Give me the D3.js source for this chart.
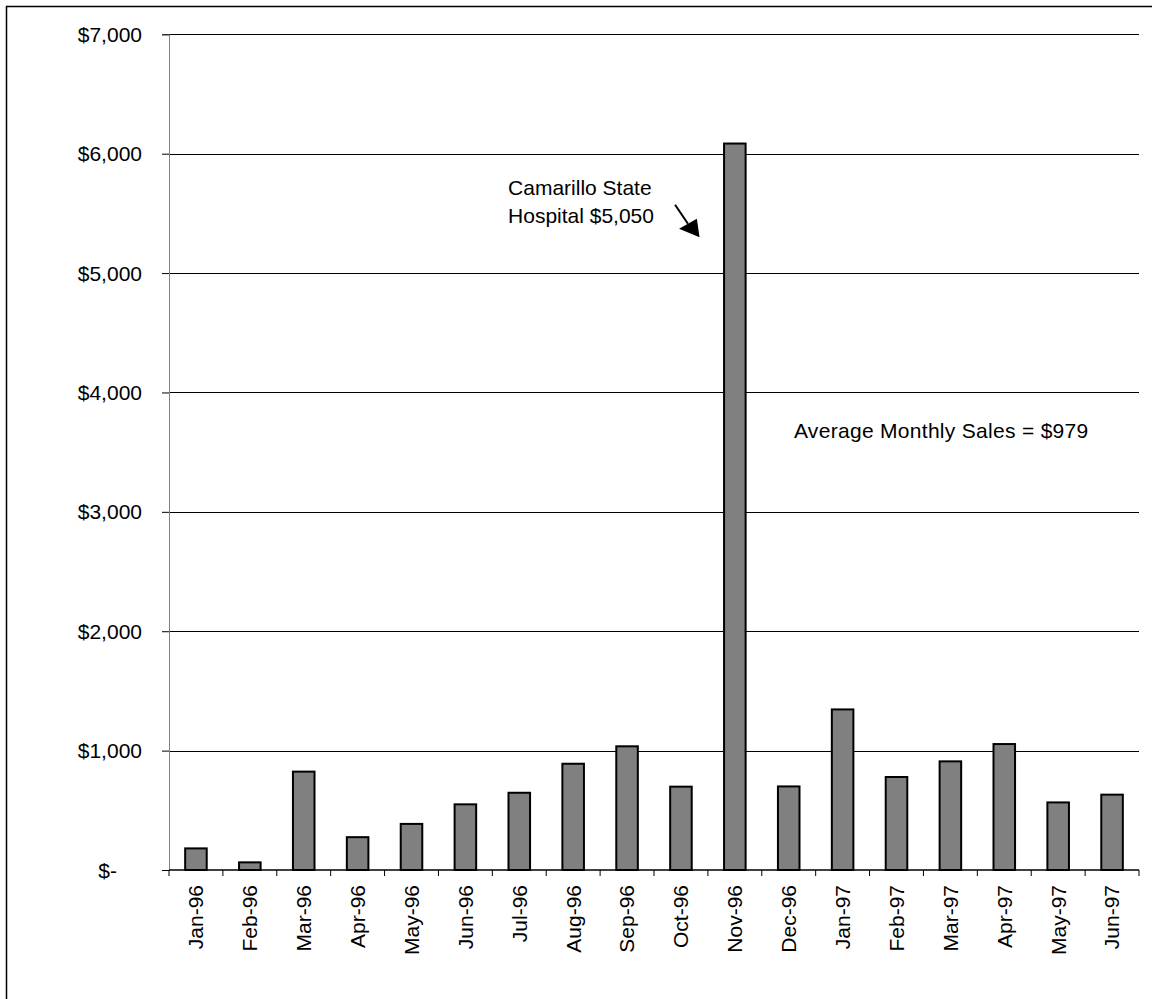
<!DOCTYPE html>
<html>
<head>
<meta charset="utf-8">
<script src="https://cdn.jsdelivr.net/npm/d3@7"></script>
<style>
  body { margin: 0; background: #fff; }
  text { font-family: "Liberation Sans", Arial, sans-serif; fill: #000; }
</style>
</head>
<body>
<svg id="chart" width="1152" height="999"></svg>
<script>
// Monthly sales, Jan 1996 – Jun 1997
const months = ["Jan-96", "Feb-96", "Mar-96", "Apr-96", "May-96", "Jun-96",
                "Jul-96", "Aug-96", "Sep-96", "Oct-96", "Nov-96", "Dec-96",
                "Jan-97", "Feb-97", "Mar-97", "Apr-97", "May-97", "Jun-97"];
const sales = [181, 64, 824, 275, 386, 550,
               647, 890, 1036, 698, 6085, 700,
               1345, 779, 910, 1055, 566, 631];
const yTicks = [0, 1000, 2000, 3000, 4000, 5000, 6000, 7000];
const calloutMonth = "Nov-96";
const calloutLines = ["Camarillo State", "Hospital $5,050"];
const averageLabel = "Average Monthly Sales = ";

const svg = d3.select("#chart");
const fontSize = 21;
const plot = { left: 169, right: 1139, top: 34.3, bottom: 870 };

// frame around the chart area
svg.append("rect")
  .attr("x", 6.5).attr("y", 6.5)
  .attr("width", 1160).attr("height", 1010)
  .attr("fill", "none").attr("stroke", "#000").attr("stroke-width", 1.5);

const x = d3.scaleBand()
  .domain(months)
  .range([plot.left, plot.right])
  .paddingInner(0.6)
  .paddingOuter(0.3);

const y = d3.scaleLinear()
  .domain([0, 7000])
  .range([plot.bottom, plot.top]);

const money = v => v === 0 ? "$-" : "$" + d3.format(",")(v);

// horizontal gridlines
svg.append("g")
  .selectAll("line")
  .data(yTicks.filter(v => v > 0))
  .join("line")
  .attr("x1", plot.left).attr("x2", plot.right)
  .attr("y1", d => Math.round(y(d)) + 0.5)
  .attr("y2", d => Math.round(y(d)) + 0.5)
  .attr("stroke", "#000").attr("stroke-width", 1);

// value axis
const yAxis = svg.append("g")
  .attr("transform", `translate(${plot.left},0)`)
  .call(d3.axisLeft(y).tickValues(yTicks).tickFormat(money).tickSize(7).tickPadding(20));
yAxis.select(".domain").attr("stroke", "#808080");
yAxis.selectAll(".tick line").attr("stroke", "#000");
yAxis.selectAll(".tick text")
  .attr("font-size", fontSize)
  .attr("font-family", "Liberation Sans, Arial, sans-serif")
  .attr("dy", "0.34em")
  .attr("dx", d => d === 0 ? -25 : 0);

// bars
svg.append("g")
  .selectAll("rect")
  .data(months.map((m, i) => ({ month: m, value: sales[i] })))
  .join("rect")
  .attr("x", d => x(d.month))
  .attr("width", x.bandwidth())
  .attr("y", d => y(d.value))
  .attr("height", d => y(0) - y(d.value))
  .attr("fill", "#808080")
  .attr("stroke", "#000")
  .attr("stroke-width", 2);

// category axis with ticks between months
const xAxis = svg.append("g")
  .attr("transform", `translate(0,${plot.bottom})`);
xAxis.append("line")
  .attr("x1", plot.left).attr("x2", plot.right)
  .attr("stroke", "#000").attr("stroke-width", 1.5);
const step = x.step();
const boundaries = d3.range(months.length + 1).map(i => plot.left + i * step);
xAxis.selectAll("line.tick")
  .data(boundaries)
  .join("line")
  .attr("class", "tick")
  .attr("x1", d => d).attr("x2", d => d)
  .attr("y1", 0).attr("y2", 6)
  .attr("stroke", "#000");
xAxis.selectAll("text")
  .data(months)
  .join("text")
  .attr("transform", d => `translate(${x(d) + x.bandwidth() / 2},15) rotate(-90)`)
  .attr("text-anchor", "end")
  .attr("dy", "0.35em")
  .attr("font-size", fontSize)
  .text(d => d);

// callout for the November spike
const cx = x(calloutMonth);
const note = svg.append("g");
note.append("text")
  .attr("x", cx - 216)
  .attr("font-size", fontSize)
  .selectAll("tspan")
  .data(calloutLines)
  .join("tspan")
  .attr("x", cx - 216)
  .attr("y", (d, i) => y(5655) + i * 28)
  .text(d => d);

const tip = [cx - 24.5, y(5300)];
const base1 = [tip[0] - 20.5, tip[1] - 8.5];
const base2 = [tip[0] - 2.7, tip[1] - 18.5];
const mid = [(base1[0] + base2[0]) / 2, (base1[1] + base2[1]) / 2];
note.append("line")
  .attr("x1", tip[0] - 24.5).attr("y1", tip[1] - 32.5)
  .attr("x2", mid[0]).attr("y2", mid[1])
  .attr("stroke", "#000").attr("stroke-width", 2);
note.append("path")
  .attr("d", d3.line()([tip, base1, base2]) + "Z")
  .attr("fill", "#000");

// average monthly sales
const avg = Math.round(d3.mean(sales));
svg.append("text")
  .attr("x", x("Dec-96") + 16)
  .attr("y", y(3620))
  .attr("font-size", fontSize)
  .attr("letter-spacing", 0.3)
  .text(averageLabel + "$" + d3.format(",")(avg));
</script>
</body>
</html>
